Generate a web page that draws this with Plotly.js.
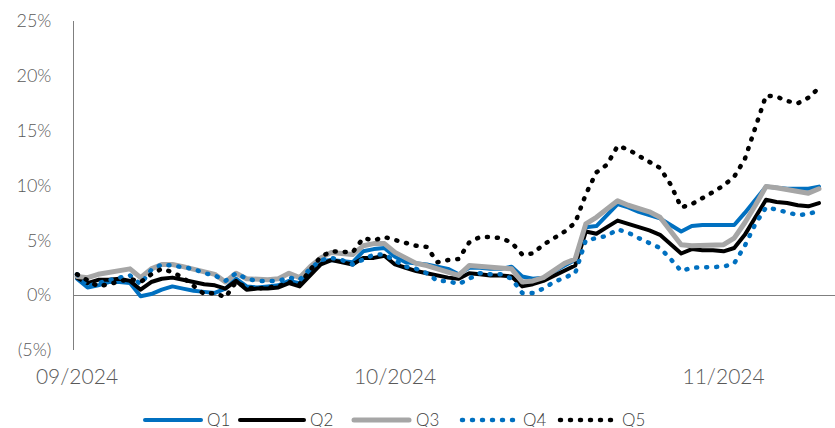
<!DOCTYPE html>
<html>
<head>
<meta charset="utf-8">
<script src="https://cdn.plot.ly/plotly-3.0.1.min.js"></script>
<style>
html,body{margin:0;padding:0;background:#fff;}
#chart{width:835px;height:428px;}
.scatterlayer path.js-line{stroke-linecap:round;stroke-linejoin:round;}
.shapelayer path{stroke-linecap:round;}
</style>
</head>
<body>
<div id="chart"></div>
<script>
const dates = [
"2024-09-01","2024-09-02","2024-09-03","2024-09-04","2024-09-05","2024-09-06","2024-09-07","2024-09-08","2024-09-09","2024-09-10",
"2024-09-11","2024-09-12","2024-09-13","2024-09-14","2024-09-15","2024-09-16","2024-09-17","2024-09-18","2024-09-19","2024-09-20",
"2024-09-21","2024-09-22","2024-09-23","2024-09-24","2024-09-25","2024-09-26","2024-09-27","2024-09-28","2024-09-29","2024-09-30",
"2024-10-01","2024-10-02","2024-10-03","2024-10-04","2024-10-05","2024-10-06","2024-10-07","2024-10-08","2024-10-09","2024-10-10",
"2024-10-11","2024-10-12","2024-10-13","2024-10-14","2024-10-15","2024-10-16","2024-10-17","2024-10-18","2024-10-19","2024-10-20",
"2024-10-21","2024-10-22","2024-10-23","2024-10-24","2024-10-25","2024-10-26","2024-10-27","2024-10-28","2024-10-29","2024-10-30",
"2024-10-31","2024-11-01","2024-11-02","2024-11-03","2024-11-04","2024-11-05","2024-11-06","2024-11-07","2024-11-08","2024-11-09",
"2024-11-10"
];
const q1 = [1.5,0.7,0.9,1.2,1.2,1.1,-0.1,0.1,0.5,0.8, 0.6,0.4,0.3,0.2,0.6,1.5,0.8,0.7,0.8,0.9,
1.3,1.1,2.0,3.1,3.2,3.1,3.0,4.0,4.2,4.3, 3.5,3.0,2.9,2.8,2.6,2.4,1.9,2.5,2.5,2.4,
2.4,2.6,1.7,1.5,1.6,2.2,2.7,3.2,6.2,6.3, 7.3,8.3,8.0,7.6,7.3,7.0,6.4,5.8,6.3,6.4,
6.4,6.4,6.4,7.5,8.7,9.9,9.8,9.7,9.7,9.7, 9.9];
const q2 = [1.6,1.1,1.4,1.4,1.5,1.3,0.5,1.2,1.5,1.6, 1.4,1.2,1.0,0.9,0.6,1.3,0.5,0.6,0.6,0.7,
1.1,0.8,1.8,2.8,3.2,3.0,2.8,3.4,3.4,3.6, 2.8,2.5,2.2,2.0,1.8,1.6,1.5,2.0,1.9,1.8,
1.8,1.7,0.8,1.0,1.3,1.8,2.3,2.7,5.8,5.6, 6.2,6.8,6.5,6.2,5.9,5.5,4.6,3.8,4.2,4.1,
4.1,4.0,4.3,5.5,7.1,8.7,8.5,8.4,8.2,8.1, 8.4];
const q3 = [1.7,1.6,1.9,2.1,2.3,2.4,1.6,2.4,2.8,2.8, 2.6,2.4,2.2,1.9,1.2,2.0,1.5,1.4,1.4,1.5,
2.0,1.6,2.6,3.4,3.9,3.8,3.7,4.5,4.7,4.7, 3.9,3.4,2.9,2.7,2.4,2.2,1.8,2.7,2.6,2.6,
2.5,2.4,1.2,1.3,1.6,2.3,2.9,3.3,6.5,7.1, 7.8,8.6,8.2,7.9,7.6,7.1,5.9,4.6,4.5,4.5,
4.6,4.6,5.2,6.6,8.2,9.9,9.8,9.6,9.5,9.3, 9.7];
const q4 = [1.9,0.8,1.1,1.4,1.6,1.8,1.0,2.3,2.8,2.7, 2.6,2.4,2.0,1.8,1.3,2.0,1.5,1.3,1.3,1.3,
1.6,1.4,2.4,3.2,3.4,3.2,2.8,3.3,3.7,3.7, 3.1,2.6,2.4,2.0,1.3,1.3,1.0,1.5,2.0,1.9,
1.9,1.5,0.2,0.2,0.6,1.2,1.6,2.0,5.0,5.2, 5.4,6.0,5.7,5.2,4.8,4.3,3.3,2.2,2.5,2.5,
2.6,2.6,2.9,4.5,6.5,8.0,7.8,7.5,7.3,7.4, 7.7];
const q5 = [1.9,1.3,0.8,1.0,1.3,1.5,1.2,1.9,2.4,2.1, 1.6,0.8,0.1,0.2,-0.2,1.2,0.7,0.6,0.7,0.8,
1.2,1.0,2.3,3.5,4.0,3.9,3.9,5.2,5.0,5.3, 5.0,4.7,4.5,4.4,3.0,3.2,3.3,4.8,5.3,5.3,
5.2,4.8,3.7,3.8,4.6,5.2,5.8,6.6,9.2,11.2, 11.9,13.6,13.3,12.7,12.2,11.6,10.1,8.0,8.3,8.8,
9.4,10.0,10.8,12.4,15.2,18.2,18.1,17.7,17.5,18.0, 18.9];

const seriesNames = ["Q1","Q2","Q3","Q4","Q5"];
const yTickVals = [-5,0,5,10,15,20,25];
const yTickText = ["(5%)","0%","5%","10%","15%","20%","25%"];
const xTickVals = ["2024-09-01","2024-10-01","2024-11-01"];
const xTickText = ["09/2024","10/2024","11/2024"];

const BLUE = "#0070C0", GRAY = "#A6A6A6", BLACK = "#000000";
const DOT = "1px,9px";
const seriesValues = [q1, q2, q3, q4, q5];
const seriesLines = [
  {color: BLUE, width: 4},
  {color: BLACK, width: 4},
  {color: GRAY, width: 5},
  {color: BLUE, width: 4.5, dash: DOT},
  {color: BLACK, width: 4.5, dash: DOT}
];

const traces = seriesNames.map((n, i) => ({
  x: dates, y: seriesValues[i], name: n, mode: "lines", line: seriesLines[i], showlegend: false
}));

// Custom legend (long line samples like the reference)
const PL = 74, PW = 761, PB = 350, PH = 329;
const px = v => (v - PL) / PW;
const py = v => (PB - v) / PH;
const legendPos = [[145, 201, 206], [240, 304, 309], [354, 409, 415], [462, 516, 522], [560, 614, 621]];
const FONT = "Lato, 'Open Sans', sans-serif";
const shapes = [], annotations = [];
seriesNames.forEach((n, i) => {
  const p = legendPos[i];
  shapes.push({type: "line", xref: "paper", yref: "paper", x0: px(p[0]), x1: px(p[1]),
               y0: py(420), y1: py(420), line: seriesLines[i], layer: "above"});
  annotations.push({xref: "paper", yref: "paper", x: px(p[2]), y: py(419), xanchor: "left",
                    yanchor: "middle", text: n, showarrow: false, height: 16, borderpad: 0,
                    valign: "middle",
                    font: {family: FONT, size: 17, color: "#404040", weight: 300}});
});

const layout = {
  width: 835, height: 428,
  margin: {l: 74, r: 0, t: 21, b: 78, autoexpand: false},
  paper_bgcolor: "#fff", plot_bgcolor: "#fff",
  font: {family: FONT, size: 17, color: "#595959", weight: 300},
  showlegend: false,
  shapes: shapes, annotations: annotations,
  xaxis: {type: "date", range: ["2024-08-31 17:12", "2024-11-11 12:14"],
          tickvals: xTickVals, ticktext: xTickText, showgrid: false, zeroline: false,
          showline: false, ticks: "", ticklabelstandoff: 12, automargin: false,
          tickfont: {family: FONT, size: 21, color: "#595959", weight: 300}},
  yaxis: {range: [-5, 25], tickvals: yTickVals, ticktext: yTickText, showgrid: false,
          zeroline: true, zerolinecolor: "#7F7F7F", zerolinewidth: 1,
          showline: true, linecolor: "#7F7F7F", linewidth: 1, ticks: "",
          ticklabelstandoff: 18, automargin: false,
          tickfont: {family: FONT, size: 18, color: "#595959", weight: 300}}
};

Plotly.newPlot("chart", traces, layout, {displayModeBar: false, staticPlot: true});
</script>
</body>
</html>
